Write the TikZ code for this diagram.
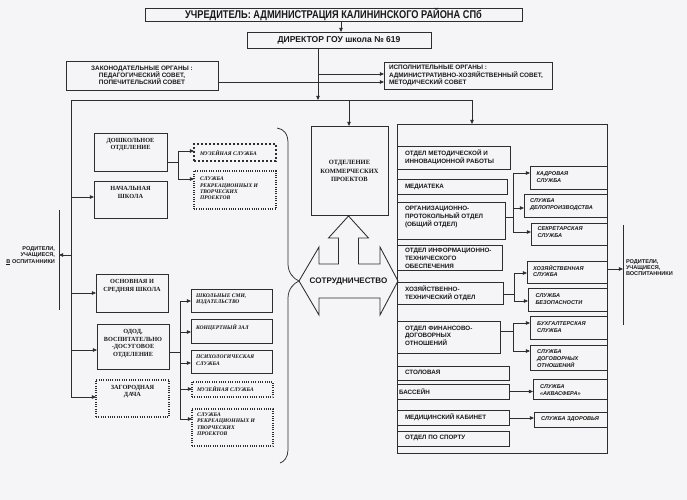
\documentclass[tikz,border=0pt]{standalone}
\usepackage{fontspec}
\setmainfont{Liberation Serif}
\newfontfamily\sansf{Liberation Sans}
\newfontfamily\nsans[FakeStretch=0.82]{Liberation Sans}
\usetikzlibrary{arrows.meta}
\definecolor{bgc}{RGB}{245,245,247}
\definecolor{lnc}{RGB}{45,45,50}
\newcommand\Bx[6]{\pgfmathsetmacro\bxw{#4-#2}\pgfmathsetmacro\bxh{#5-#3}\node[#6, minimum width=\bxw bp, minimum height=\bxh bp, anchor=north west] (#1) at (#2,#3) {};}
\tikzset{
  ln/.style={draw=lnc, line width=0.75bp},
  bx/.style={ln, rectangle, inner sep=0pt, outer sep=0pt},
  dashbox/.style={bx, line width=1.7bp, dash pattern=on 2.4bp off 1.6bp},
  dotbox/.style={bx, line width=1.1bp, dash pattern=on 1bp off 1.3bp},
  arr/.style={ln, -{Triangle[length=4.2bp,width=3.6bp]}},
  lbl/.style={inner sep=0pt, outer sep=0pt, text=black!90},
  fTitle/.style={lbl, font=\nsans\bfseries\fontsize{11.3}{13}\selectfont},
  fDir/.style={lbl, font=\sansf\bfseries\fontsize{8.6}{10}\selectfont},
  fOrg/.style={lbl, font=\sansf\bfseries\fontsize{6.4}{7.2}\selectfont},
  fSer/.style={lbl, align=center, font=\bfseries\fontsize{6.3}{7.8}\selectfont},
  fSerI/.style={lbl, align=left, font=\bfseries\itshape\fontsize{5.6}{6.4}\selectfont},
  fDep/.style={lbl, align=left, font=\sansf\bfseries\fontsize{6.3}{7.9}\selectfont},
  fDepI/.style={lbl, align=left, font=\sansf\bfseries\itshape\fontsize{5.6}{7}\selectfont},
  fPar/.style={lbl, font=\sansf\bfseries\fontsize{5.6}{6.4}\selectfont},
  fCoop/.style={lbl, font=\sansf\bfseries\fontsize{8.1}{9}\selectfont},
}
\begin{document}
\begin{tikzpicture}[x=1bp,y=-1bp]
\fill[bgc] (0,0) rectangle (687,500);
\useasboundingbox (0,0) rectangle (687,500);

% top
\Bx{top}{145}{8}{522}{21}{bx}
\node[fTitle] (topt) at (top.center) {УЧРЕДИТЕЛЬ: АДМИНИСТРАЦИЯ КАЛИНИНСКОГО РАЙОНА СПб};
\Bx{dir}{247}{32}{431}{48}{bx}
\node[fDir] (dirt) at (dir.center) {ДИРЕКТОР ГОУ школа № 619};
\draw[arr] (top.south -| 341,0) -- (dir.north -| 341,0);

\Bx{leg}{66}{61}{218}{90}{bx}
\node[fOrg, align=center] (legt) at (leg.center) {ЗАКОНОДАТЕЛЬНЫЕ ОРГАНЫ :\\ПЕДАГОГИЧЕСКИЙ СОВЕТ,\\ПОПЕЧИТЕЛЬСКИЙ СОВЕТ};
\Bx{exe}{384}{62}{552}{89}{bx}
\node[fOrg, align=left, anchor=west] (exet) at (389,75.5) {ИСПОЛНИТЕЛЬНЫЕ ОРГАНЫ :\\АДМИНИСТРАТИВНО-ХОЗЯЙСТВЕННЫЙ СОВЕТ,\\МЕТОДИЧЕСКИЙ СОВЕТ};

\coordinate (hL) at (71,100);
\coordinate (hR) at (472,100);
\coordinate (hC) at (349,100);
\coordinate (hD) at (318,100);
\coordinate (j1) at (318,74);
\coordinate (tB) at (71,397);
\draw[ln] (hL) -- (hR);
\draw[arr] (dir.south -| hD) -- (hD);
\draw[arr] (j1) -- (exe.west |- j1);
\draw[arr] (leg.east |- 0,82) -- (exe.west |- 0,82);
\draw[ln] (hL) -- (tB);

% left column
\Bx{dosh}{94}{133}{167}{171}{bx}
\node[fSer] (dosht) at (130.5,144.5) {ДОШКОЛЬНОЕ\\ОТДЕЛЕНИЕ};
\Bx{nach}{94}{181}{167}{218}{bx}
\node[fSer] (nacht) at (130.5,192.5) {НАЧАЛЬНАЯ\\ШКОЛА};
\Bx{osn}{96}{274}{168}{312}{bx}
\node[fSer] (osnt) at (132,286) {ОСНОВНАЯ И\\СРЕДНЯЯ ШКОЛА};
\Bx{odod}{97}{324}{169}{369}{bx}
\node[fSer] (ododt) at (133,343.5) {ОДОД,\\ВОСПИТАТЕЛЬНО\\-ДОСУГОВОЕ\\ОТДЕЛЕНИЕ};
\Bx{zag}{96}{380}{169}{417}{dotbox}
\node[fSer] (zagt) at (132.5,391.7) {ЗАГОРОДНАЯ\\ДАЧА};

\draw[arr] (hL |- 0,197) -- (nach.west |- 0,197);
\draw[arr] (hL |- 0,293) -- (osn.west |- 0,293);
\draw[arr] (hL |- 0,350) -- (odod.west |- 0,350);
\draw[arr] (tB) -- (zag.west |- tB);

% dosh branch
\Bx{muzA}{194}{144}{276}{161}{dashbox}
\node[fSerI, anchor=west] (muzAt) at (200,152.6) {МУЗЕЙНАЯ СЛУЖБА};
\Bx{rekA}{194}{171}{276}{209}{dotbox}
\node[fSerI, anchor=west] (rekAt) at (200,188.6) {СЛУЖБА\\РЕКРЕАЦИОННЫХ И\\ТВОРЧЕСКИХ\\ПРОЕКТОВ};
\coordinate (bD) at (178,162);
\draw[ln] (dosh.east |- bD) -- (bD);
\draw[ln] (bD |- 0,151) -- (bD |- 0,179);
\draw[arr] (bD |- 0,151) -- (muzA.west |- 0,151);
\draw[arr] (bD |- 0,179) -- (rekA.west |- 0,179);

% odod branch
\Bx{smi}{191}{289}{272}{312}{bx}
\node[fSerI, anchor=west] (smit) at (196,299.5) {ШКОЛЬНЫЕ СМИ,\\ИЗДАТЕЛЬСТВО};
\Bx{konc}{191}{319}{272}{343}{bx}
\node[fSerI, anchor=west] (konct) at (196,327.7) {КОНЦЕРТНЫЙ ЗАЛ};
\Bx{psy}{191}{350}{272}{373}{bx}
\node[fSerI, anchor=west] (psyt) at (196,360) {ПСИХОЛОГИЧЕСКАЯ\\СЛУЖБА};
\Bx{muzB}{192}{382}{273}{397}{dotbox}
\node[fSerI, anchor=west] (muzBt) at (197,389.2) {МУЗЕЙНАЯ СЛУЖБА};
\Bx{rekB}{192}{409}{273}{446}{dotbox}
\node[fSerI, anchor=west] (rekBt) at (197,424.3) {СЛУЖБА\\РЕКРЕАЦИОННЫХ И\\ТВОРЧЕСКИХ\\ПРОЕКТОВ};
\coordinate (bO) at (180,352);
\draw[ln] (odod.east |- bO) -- (bO);
\draw[ln] (bO |- 0,301) -- (bO |- 0,419);
\draw[arr] (bO |- 0,301) -- (smi.west |- 0,301);
\draw[arr] (bO |- 0,332) -- (konc.west |- 0,332);
\draw[arr] (bO |- 0,363) -- (psy.west |- 0,363);
\draw[arr] (bO |- 0,389) -- (muzB.west |- 0,389);
\draw[arr] (bO |- 0,419) -- (rekB.west |- 0,419);

% brace
\draw[ln] (277,128) .. controls (284,129) and (288,134) .. (288,143) -- (288,264)
  .. controls (288,273) and (294,279) .. (299,281)
  .. controls (294,283) and (288,289) .. (288,298) -- (288,450)
  .. controls (288,457) and (284,462) .. (280,463);

% commercial
\Bx{com}{311}{126}{388}{215}{bx}
\node[fSer, font=\bfseries\fontsize{6.5}{8.2}\selectfont] (comt) at (349.5,171) {ОТДЕЛЕНИЕ\\КОММЕРЧЕСКИХ\\ПРОЕКТОВ};
\draw[arr] (hC) -- (com.north -| hC);

% cooperation arrow
\draw[ln, line width=0.85bp] (348.5,216) -- (368.5,238) -- (358.5,238) -- (358.5,264) -- (380,264) -- (380,247) -- (398,281)
  -- (380,315) -- (380,298) -- (319,298) -- (319,315) -- (299,281) -- (319,247) -- (319,264)
  -- (338.5,264) -- (338.5,238) -- (328.5,238) -- cycle;
\node[fCoop] (coop) at (348.5,281) {СОТРУДНИЧЕСТВО};

% right panel
\Bx{rp}{397}{124}{607}{453}{bx}
\draw[arr] (hR) -- (rp.north -| hR);

\Bx{met}{397}{146}{510}{169}{bx}
\node[fDep, anchor=west] (mett) at (405,157.5) {ОТДЕЛ МЕТОДИЧЕСКОЙ И\\ИННОВАЦИОННОЙ РАБОТЫ};
\Bx{med}{397}{179}{507}{194}{bx}
\node[fDep, anchor=west] (medt) at (405,186.7) {МЕДИАТЕКА};
\Bx{org}{397}{202}{505}{239}{bx}
\node[fDep, anchor=west] (orgt) at (405,217.2) {ОРГАНИЗАЦИОННО-\\ПРОТОКОЛЬНЫЙ ОТДЕЛ\\(ОБЩИЙ ОТДЕЛ)};
\Bx{inf}{397}{245}{502}{270}{bx}
\node[fDep, anchor=west] (inft) at (405,258.3) {ОТДЕЛ ИНФОРМАЦИОННО-\\ТЕХНИЧЕСКОГО\\ОБЕСПЕЧЕНИЯ};
\Bx{hoz}{397}{282}{503}{304}{bx}
\node[fDep, anchor=west] (hozt) at (405,293) {ХОЗЯЙСТВЕННО-\\ТЕХНИЧЕСКИЙ ОТДЕЛ};
\Bx{fin}{397}{321}{500}{353}{bx}
\node[fDep, anchor=west] (fint) at (405,335.8) {ОТДЕЛ ФИНАНСОВО-\\ДОГОВОРНЫХ\\ОТНОШЕНИЙ};
\Bx{stol}{397}{366}{509}{380}{bx}
\node[fDep, anchor=west] (stolt) at (405,372.8) {СТОЛОВАЯ};
\Bx{bas}{397}{384}{509}{399}{bx}
\node[fDep, anchor=west] (bast) at (399,392) {БАССЕЙН};
\Bx{medk}{397}{410}{509}{425}{bx}
\node[fDep, anchor=west] (medkt) at (405,417.7) {МЕДИЦИНСКИЙ КАБИНЕТ};
\Bx{sport}{397}{431}{509}{446}{bx}
\node[fDep, anchor=west] (sportt) at (405,438.4) {ОТДЕЛ ПО СПОРТУ};

\Bx{kadr}{530}{166}{607}{189}{bx}
\node[fDepI, anchor=west] (kadrt) at (536.5,176.7) {КАДРОВАЯ\\СЛУЖБА};
\Bx{delo}{524}{194}{607}{217}{bx}
\node[fDepI, anchor=west] (delot) at (530,204.5) {СЛУЖБА\\ДЕЛОПРОИЗВОДСТВА};
\Bx{sekr}{531}{223}{607}{245}{bx}
\node[fDepI, anchor=west] (sekrt) at (537.5,232) {СЕКРЕТАРСКАЯ\\СЛУЖБА};
\Bx{hozs}{527}{261}{607}{283}{bx}
\node[fDepI, anchor=west] (hozst) at (533,271) {ХОЗЯЙСТВЕННАЯ\\СЛУЖБА};
\Bx{bez}{528}{288}{607}{311}{bx}
\node[fDepI, anchor=west] (bezt) at (535.5,298.7) {СЛУЖБА\\БЕЗОПАСНОСТИ};
\Bx{buh}{530}{316}{607}{339}{bx}
\node[fDepI, anchor=west] (buht) at (537,327) {БУХГАЛТЕРСКАЯ\\СЛУЖБА};
\Bx{dog}{530}{345}{607}{370}{bx}
\node[fDepI, anchor=west] (dogt) at (537,358.8) {СЛУЖБА\\ДОГОВОРНЫХ\\ОТНОШЕНИЙ};
\Bx{akva}{533}{379}{607}{399}{bx}
\node[fDepI, anchor=west] (akvat) at (540,390.3) {СЛУЖБА\\«АКВАСФЕРА»};
\Bx{zdor}{534}{412}{607}{427}{bx}
\node[fDepI, anchor=west] (zdort) at (541,419.3) {СЛУЖБА ЗДОРОВЬЯ};

\coordinate (bR1) at (513,217);
\draw[ln] (org.east |- bR1) -- (bR1);
\draw[ln] (bR1 |- 0,173) -- (bR1 |- 0,232);
\draw[arr] (bR1 |- 0,173) -- (kadr.west |- 0,173);
\draw[arr] (bR1 |- 0,208) -- (delo.west |- 0,208);
\draw[arr] (bR1 |- 0,232) -- (sekr.west |- 0,232);

\coordinate (bR2) at (514,294);
\draw[ln] (hoz.east |- bR2) -- (bR2);
\draw[ln] (bR2 |- 0,273) -- (bR2 |- 0,301);
\draw[arr] (bR2 |- 0,273) -- (hozs.west |- 0,273);
\draw[arr] (bR2 |- 0,301) -- (bez.west |- 0,301);

\coordinate (bR3) at (513,331);
\draw[ln] (fin.east |- bR3) -- (bR3);
\draw[ln] (bR3 |- 0,323) -- (bR3 |- 0,351);
\draw[arr] (bR3 |- 0,323) -- (buh.west |- 0,323);
\draw[arr] (bR3 |- 0,351) -- (dog.west |- 0,351);

\draw[arr] (bas.east |- 0,391.5) -- (akva.west |- 0,391.5);
\draw[arr] (medk.east |- 0,418) -- (zdor.west |- 0,418);

% parents right
\coordinate (rpT) at (623,225);
\coordinate (rpB) at (623,325);
\draw[ln] (rpT) -- (rpB);
\draw[arr] (rp.east |- 0,269) -- (rpT |- 0,269);
\node[fPar, align=left, anchor=west] (rpar) at (626,267.7) {РОДИТЕЛИ,\\УЧАЩИЕСЯ,\\ВОСПИТАННИКИ};

% parents left
\coordinate (lpT) at (59,210);
\coordinate (lpB) at (59,310);
\draw[ln] (lpT) -- (lpB);
\draw[arr] (hL |- 0,255) -- (lpT |- 0,255);
\node[fPar, align=right, anchor=east] (lpar) at (55,255.7) {РОДИТЕЛИ,\\УЧАЩИЕСЯ,\\\underline{В} ОСПИТАННИКИ};
\end{tikzpicture}
\end{document}
